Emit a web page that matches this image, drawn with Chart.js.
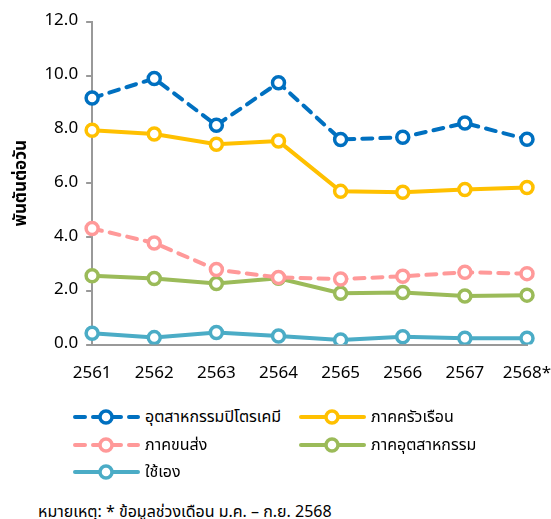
<!DOCTYPE html>
<html>
<head>
<meta charset="utf-8">
<title>Energy use chart</title>
<script src="https://cdn.jsdelivr.net/npm/chart.js"></script>
<style>
    body { margin: 0; background: #fff; font-family: Tahoma, "Noto Sans Thai", "Noto Sans", sans-serif; }
    #wrap { position: relative; width: 551px; height: 519px; }
    #chart-box { position: absolute; left: 0; top: 0; width: 551px; height: 405px; }
    #legend { position: absolute; left: 72px; top: 406px; display: grid;
              grid-template-columns: 226px 220px; row-gap: 5px; }
    .item { display: flex; align-items: center; height: 22.5px; font-size: 16px; color: #000; }
    .item canvas { margin-right: 5px; }
    #note { position: absolute; left: 38px; top: 500px; font-size: 16px; color: #000; }
</style>
</head>
<body>
<div id="wrap">
    <div id="chart-box"><canvas id="line-chart"></canvas></div>
    <div id="legend"></div>
    <div id="note">หมายเหตุ: * ข้อมูลช่วงเดือน ม.ค. – ก.ย. 2568</div>
</div>

<script>
const years = ['2561', '2562', '2563', '2564', '2565', '2566', '2567', '2568*'];
const petrochem = [9.17, 9.90, 8.16, 9.74, 7.63, 7.71, 8.24, 7.64];
const household = [7.97, 7.83, 7.45, 7.57, 5.70, 5.67, 5.77, 5.84];
const transport = [4.32, 3.78, 2.79, 2.50, 2.44, 2.54, 2.69, 2.64];
const industry = [2.56, 2.46, 2.27, 2.47, 1.91, 1.94, 1.81, 1.84];
const ownUse = [0.42, 0.26, 0.45, 0.32, 0.17, 0.29, 0.24, 0.24];
const yTicks = [0, 2, 4, 6, 8, 10, 12];

const seriesNames = ['อุตสาหกรรมปิโตรเคมี', 'ภาคครัวเรือน', 'ภาคขนส่ง', 'ภาคอุตสาหกรรม', 'ใช้เอง'];
const seriesColors = ['#0070C0', '#FFC000', '#FF9999', '#9BBB59', '#4BACC6'];
const seriesDashed = [true, false, true, false, false];
const seriesData = [petrochem, household, transport, industry, ownUse];

const datasets = seriesData.map((d, i) => ({
    label: seriesNames[i],
    data: d,
    borderColor: seriesColors[i],
    backgroundColor: '#fff',
    borderWidth: 4,
    borderDash: seriesDashed[i] ? [10, 8] : [],
    borderCapStyle: 'round',
    pointRadius: 6,
    pointBorderWidth: 3.5,
    pointBackgroundColor: '#fff',
    pointBorderColor: seriesColors[i],
    tension: 0
}));

const font = 'Tahoma, "Noto Sans Thai", "Noto Sans", sans-serif';

new Chart(document.getElementById('line-chart'), {
    type: 'line',
    data: { labels: years, datasets: datasets },
    options: {
        responsive: true,
        maintainAspectRatio: false,
        animation: false,
        layout: { padding: { left: 8, right: 24, top: 22, bottom: 0 } },
        plugins: { legend: { display: false }, tooltip: { enabled: false } },
        scales: {
            x: {
                offset: false,
                afterFit: s => { s.paddingRight = 0; s.paddingLeft = 0; },
                grid: { drawOnChartArea: false, drawTicks: false },
                border: { color: '#999', width: 2 },
                ticks: { color: '#000', font: { family: font, size: 17 }, padding: 20 }
            },
            y: {
                min: 0,
                max: 12,
                afterBuildTicks: axis => { axis.ticks = yTicks.map(v => ({ value: v })); },
                afterFit: s => { s.paddingTop = 0; s.paddingBottom = 0; },
                grid: { drawOnChartArea: false, drawTicks: true, tickLength: 6, color: '#999', lineWidth: 2 },
                border: { color: '#999', width: 2 },
                ticks: { color: '#000', font: { family: font, size: 17 }, padding: 8,
                         callback: v => v.toFixed(1) },
                title: { display: true, text: 'พันตันต่อวัน', color: '#000',
                         font: { family: font, size: 17, weight: 'bold' }, padding: { bottom: 4 } }
            }
        }
    }
});

// legend below the chart: line + open circle swatch
const legend = document.getElementById('legend');
seriesNames.forEach((name, i) => {
    const item = document.createElement('div');
    item.className = 'item';
    const c = document.createElement('canvas');
    c.width = 68; c.height = 20;
    const ctx = c.getContext('2d');
    ctx.strokeStyle = seriesColors[i];
    ctx.lineWidth = 4;
    ctx.lineCap = 'round';
    ctx.setLineDash(seriesDashed[i] ? [10, 8] : []);
    ctx.beginPath();
    ctx.moveTo(3, 10); ctx.lineTo(66, 10);
    ctx.stroke();
    ctx.setLineDash([]);
    ctx.beginPath();
    ctx.arc(34, 10, 6, 0, Math.PI * 2);
    ctx.fillStyle = '#fff';
    ctx.fill();
    ctx.lineWidth = 3.5;
    ctx.stroke();
    item.appendChild(c);
    const span = document.createElement('span');
    span.textContent = name;
    item.appendChild(span);
    legend.appendChild(item);
});
</script>
</body>
</html>
